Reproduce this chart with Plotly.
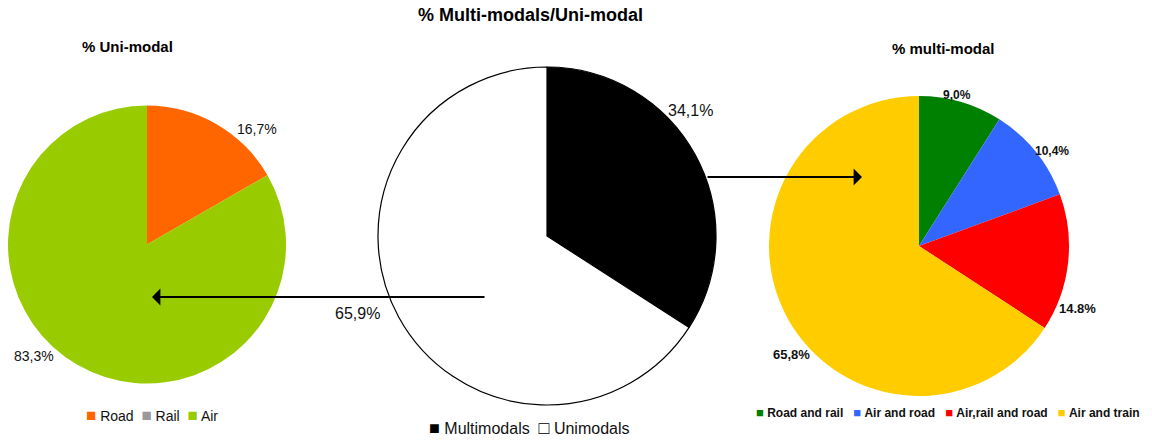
import plotly.graph_objects as go

# ---- data ----
uni_labels = ["Road", "Rail", "Air"]
uni_values = [16.7, 0.0, 83.3]
uni_text = ["16,7%", "", "83,3%"]

mix_labels = ["Multimodals", "Unimodals"]
mix_values = [34.1, 65.9]
mix_text = ["34,1%", "65,9%"]

multi_labels = ["Road and rail", "Air and road", "Air,rail and road", "Air and train"]
multi_values = [9.0, 10.4, 14.8, 65.8]
multi_text = ["9,0%", "10,4%", "14.8%", "65,8%"]

# ---- styles / layout ----
W, H = 1152, 441
FONT = "Liberation Sans, Arial, sans-serif"
uni_colors = ["#FF6600", "#999999", "#99CC00"]
mix_colors = ["#000000", "#FFFFFF"]
multi_colors = ["#008000", "#3366FF", "#FF0000", "#FFCC00"]


def px_x(v):
    return v / W


def px_y(v):
    return 1 - v / H


fig = go.Figure()

fig.add_trace(go.Pie(
    labels=uni_labels, values=uni_values, sort=False, direction="clockwise", rotation=0,
    marker=dict(colors=uni_colors, line=dict(width=0)), textinfo="none",
    domain=dict(x=[px_x(8), px_x(286)], y=[px_y(384), px_y(105)]),
    showlegend=False, hoverinfo="label+percent",
))
fig.add_trace(go.Pie(
    labels=mix_labels, values=mix_values, sort=False, direction="clockwise", rotation=0,
    marker=dict(colors=mix_colors, line=dict(width=1.2, color="#000000")), textinfo="none",
    domain=dict(x=[px_x(378), px_x(716)], y=[px_y(405), px_y(67)]),
    showlegend=False, hoverinfo="label+percent",
))
fig.add_trace(go.Pie(
    labels=multi_labels, values=multi_values, sort=False, direction="clockwise", rotation=0,
    marker=dict(colors=multi_colors, line=dict(width=0)), textinfo="none",
    domain=dict(x=[px_x(769), px_x(1069)], y=[px_y(396), px_y(96)]),
    showlegend=False, hoverinfo="label+percent",
))

# label positions (pixel centres), sizes, weight
label_specs = [
    (uni_text[0], 257, 129, 14, False),
    (uni_text[2], 34, 356, 14, False),
    (mix_text[0], 690, 110, 16, False),
    (mix_text[1], 357, 313, 16, False),
    (multi_text[0], 957, 95, 12, True),
    (multi_text[1], 1052, 151, 12, True),
    (multi_text[2], 1077, 308, 13, True),
    (multi_text[3], 791, 354, 13, True),
]
annotations = []
for txt, x, y, s, b in label_specs:
    annotations.append(dict(text=f"<b>{txt}</b>" if b else txt, x=px_x(x), y=px_y(y),
                            xref="paper", yref="paper",
                            showarrow=False, xanchor="center", yanchor="middle",
                            font=dict(family=FONT, size=s, color="#111111")))

titles = [
    ("<b>% Multi-modals/Uni-modal</b>", 530, 15, 18),
    ("<b>% Uni-modal</b>", 127, 47, 15),
    ("<b>% multi-modal</b>", 943, 48, 15),
]
for txt, x, y, s in titles:
    annotations.append(dict(text=txt, x=px_x(x), y=px_y(y), xref="paper", yref="paper",
                            showarrow=False, xanchor="center", yanchor="middle",
                            font=dict(family=FONT, size=s, color="#000000")))


# custom compact legends built from labels and colours
def legend_text(labels, colors, sq_size, bold=False, hollow=None, gap="  "):
    parts = []
    for i, (lab, col) in enumerate(zip(labels, colors)):
        if hollow is not None and i in hollow:
            sq = f'<span style="font-size:{sq_size}px;color:#000000">□</span>'
        else:
            sq = f'<span style="font-size:{sq_size}px;color:{col}">■</span>'
        t = f"<b>{lab}</b>" if bold else lab
        parts.append(f"{sq} {t}")
    return gap.join(parts)


legend_specs = [
    (legend_text(uni_labels, uni_colors, 17), 84, 415, 14),
    (legend_text(mix_labels, mix_colors, 18, hollow={1}), 427, 428, 16),
    (legend_text(multi_labels, multi_colors, 13, bold=True, gap="   "), 754, 412, 12),
]
for txt, x, y, s in legend_specs:
    annotations.append(dict(text=txt, x=px_x(x), y=px_y(y), xref="paper", yref="paper",
                            showarrow=False, xanchor="left", yanchor="middle",
                            font=dict(family=FONT, size=s, color="#111111")))

# arrows
annotations.append(dict(text="", x=px_x(152), y=px_y(297), xref="paper", yref="paper",
                        ax=486 - 152, ay=0, showarrow=True, arrowhead=1, arrowsize=1.4,
                        arrowwidth=2, arrowcolor="#000000"))
annotations.append(dict(text="", x=px_x(862), y=px_y(177), xref="paper", yref="paper",
                        ax=706 - 862, ay=0, showarrow=True, arrowhead=1, arrowsize=1.4,
                        arrowwidth=2, arrowcolor="#000000"))

fig.update_layout(
    width=W, height=H, autosize=False,
    margin=dict(l=0, r=0, t=0, b=0),
    paper_bgcolor="white", plot_bgcolor="white",
    annotations=annotations,
    showlegend=False,
)

fig.write_html("out.html", config={"displayModeBar": False},
               post_script="document.body.style.margin='0';")
